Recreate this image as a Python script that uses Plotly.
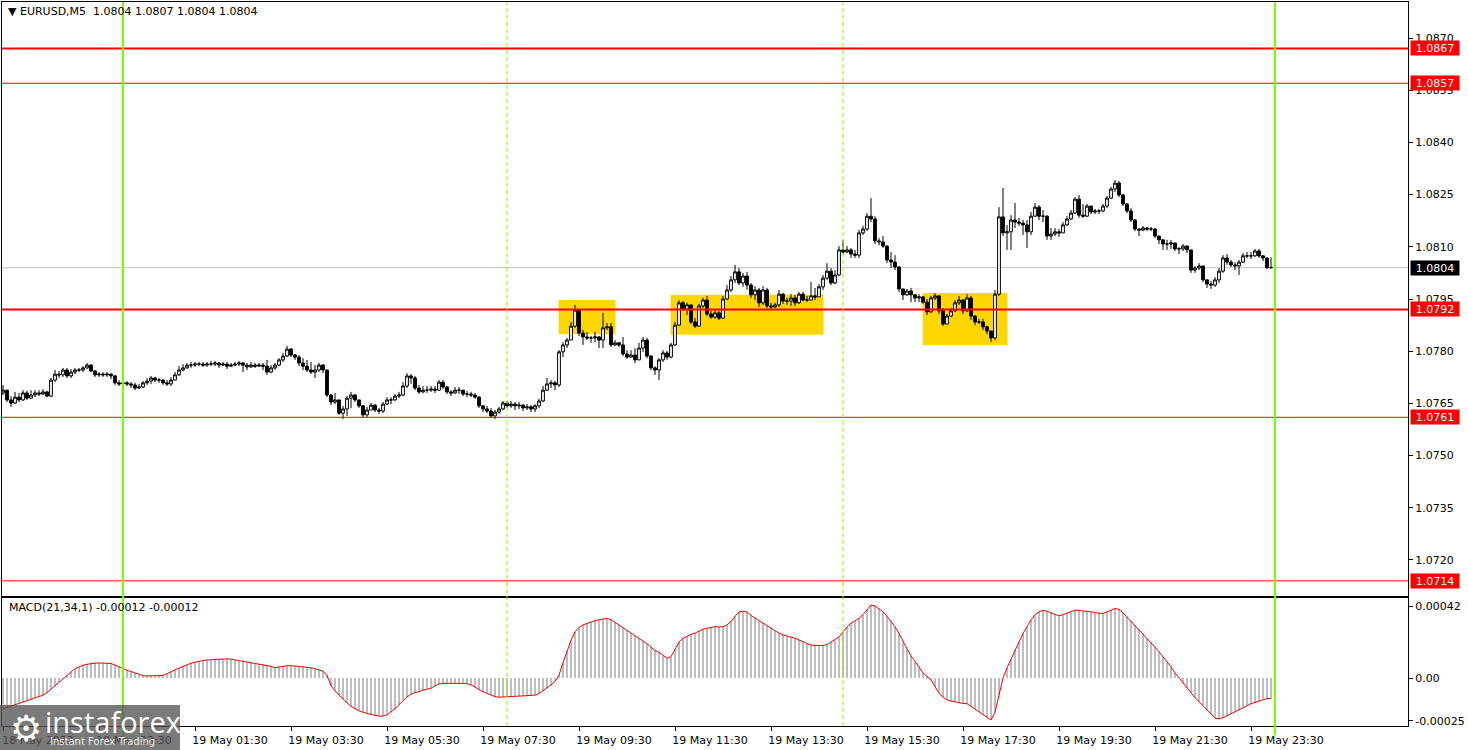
import plotly.graph_objects as go

# ---------------- data (EURUSD M5, 18 May 21:30 .. 19 May 23:55) ----------------
first_open = 1.07680
closes = [
    1.07688, 1.07660, 1.07651, 1.07668, 1.07660, 1.07680, 1.07665, 1.07674, 1.07680, 1.07677,
    1.07683, 1.07671, 1.07717, 1.07734, 1.07732, 1.07746, 1.07729, 1.07740, 1.07746, 1.07746,
    1.07752, 1.07760, 1.07743, 1.07732, 1.07734, 1.07732, 1.07734, 1.07729, 1.07709, 1.07706,
    1.07709, 1.07706, 1.07703, 1.07694, 1.07697, 1.07709, 1.07714, 1.07723, 1.07717, 1.07717,
    1.07709, 1.07706, 1.07717, 1.07732, 1.07746, 1.07752, 1.07760, 1.07760, 1.07763, 1.07763,
    1.07760, 1.07763, 1.07763, 1.07766, 1.07760, 1.07763, 1.07757, 1.07760, 1.07763, 1.07766,
    1.07760, 1.07755, 1.07760, 1.07757, 1.07760, 1.07757, 1.07740, 1.07752, 1.07760, 1.07775,
    1.07786, 1.07806, 1.07789, 1.07783, 1.07766, 1.07757, 1.07746, 1.07740, 1.07746, 1.07760,
    1.07746, 1.07674, 1.07654, 1.07660, 1.07622, 1.07634, 1.07665, 1.07674, 1.07660, 1.07643,
    1.07617, 1.07631, 1.07645, 1.07631, 1.07628, 1.07648, 1.07660, 1.07660, 1.07671, 1.07674,
    1.07700, 1.07729, 1.07723, 1.07694, 1.07683, 1.07688, 1.07688, 1.07691, 1.07688, 1.07711,
    1.07697, 1.07683, 1.07680, 1.07688, 1.07688, 1.07677, 1.07677, 1.07674, 1.07668, 1.07643,
    1.07634, 1.07628, 1.07614, 1.07625, 1.07634, 1.07651, 1.07643, 1.07648, 1.07643, 1.07645,
    1.07637, 1.07640, 1.07634, 1.07643, 1.07657, 1.07688, 1.07706, 1.07709, 1.07703, 1.07798,
    1.07818, 1.07832, 1.07872, 1.07918, 1.07852, 1.07841, 1.07838, 1.07838, 1.07841, 1.07832,
    1.07867, 1.07870, 1.07818, 1.07824, 1.07818, 1.07792, 1.07783, 1.07789, 1.07775, 1.07809,
    1.07832, 1.07786, 1.07752, 1.07746, 1.07775, 1.07795, 1.07783, 1.07818, 1.07875, 1.07939,
    1.07921, 1.07933, 1.07884, 1.07872, 1.07930, 1.07947, 1.07907, 1.07898, 1.07910, 1.07895,
    1.07950, 1.07976, 1.08005, 1.08028, 1.07996, 1.08016, 1.07990, 1.07962, 1.07976, 1.07939,
    1.07976, 1.07930, 1.07927, 1.07933, 1.07964, 1.07944, 1.07944, 1.07953, 1.07939, 1.07964,
    1.07947, 1.07947, 1.07959, 1.07956, 1.07985, 1.08010, 1.08030, 1.07996, 1.08019, 1.08091,
    1.08085, 1.08091, 1.08079, 1.08076, 1.08140, 1.08151, 1.08188, 1.08180, 1.08117, 1.08114,
    1.08102, 1.08062, 1.08056, 1.08042, 1.07979, 1.07962, 1.07973, 1.07962, 1.07953, 1.07956,
    1.07941, 1.07913, 1.07953, 1.07959, 1.07916, 1.07878, 1.07901, 1.07916, 1.07939, 1.07947,
    1.07916, 1.07953, 1.07901, 1.07884, 1.07884, 1.07870, 1.07858, 1.07838, 1.07964, 1.08186,
    1.08140, 1.08143, 1.08177, 1.08171, 1.08168, 1.08163, 1.08143, 1.08188, 1.08214, 1.08188,
    1.08188, 1.08131, 1.08137, 1.08143, 1.08140, 1.08163, 1.08180, 1.08197, 1.08237, 1.08191,
    1.08188, 1.08217, 1.08200, 1.08203, 1.08203, 1.08217, 1.08240, 1.08266, 1.08283, 1.08249,
    1.08223, 1.08203, 1.08177, 1.08151, 1.08148, 1.08154, 1.08151, 1.08151, 1.08131, 1.08120,
    1.08108, 1.08108, 1.08111, 1.08094, 1.08094, 1.08102, 1.08091, 1.08033, 1.08039, 1.08045,
    1.08005, 1.07993, 1.07990, 1.08005, 1.08030, 1.08068, 1.08056, 1.08048, 1.08045, 1.08056,
    1.08074, 1.08074, 1.08074, 1.08088, 1.08074, 1.08068, 1.08040, 1.08040,
]
highs = [
    1.07703, 1.07688, 1.07671, 1.07683, 1.07680, 1.07688, 1.07686, 1.07688, 1.07688, 1.07688,
    1.07691, 1.07686, 1.07723, 1.07746, 1.07743, 1.07752, 1.07752, 1.07749, 1.07752, 1.07752,
    1.07757, 1.07766, 1.07763, 1.07746, 1.07740, 1.07740, 1.07740, 1.07737, 1.07732, 1.07717,
    1.07717, 1.07714, 1.07711, 1.07709, 1.07706, 1.07714, 1.07723, 1.07729, 1.07726, 1.07723,
    1.07720, 1.07717, 1.07726, 1.07740, 1.07757, 1.07763, 1.07766, 1.07769, 1.07769, 1.07769,
    1.07769, 1.07769, 1.07772, 1.07772, 1.07769, 1.07769, 1.07769, 1.07766, 1.07769, 1.07772,
    1.07769, 1.07766, 1.07769, 1.07766, 1.07766, 1.07766, 1.07775, 1.07760, 1.07766, 1.07780,
    1.07795, 1.07815, 1.07809, 1.07792, 1.07789, 1.07780, 1.07775, 1.07769, 1.07760, 1.07766,
    1.07763, 1.07746, 1.07677, 1.07680, 1.07660, 1.07643, 1.07671, 1.07683, 1.07677, 1.07660,
    1.07645, 1.07640, 1.07651, 1.07648, 1.07637, 1.07654, 1.07668, 1.07668, 1.07677, 1.07683,
    1.07711, 1.07737, 1.07734, 1.07729, 1.07703, 1.07700, 1.07700, 1.07700, 1.07700, 1.07717,
    1.07717, 1.07700, 1.07688, 1.07697, 1.07697, 1.07688, 1.07686, 1.07683, 1.07680, 1.07671,
    1.07645, 1.07643, 1.07637, 1.07631, 1.07640, 1.07657, 1.07657, 1.07657, 1.07654, 1.07654,
    1.07648, 1.07648, 1.07645, 1.07648, 1.07663, 1.07700, 1.07723, 1.07717, 1.07714, 1.07803,
    1.07826, 1.07838, 1.07884, 1.07933, 1.07918, 1.07861, 1.07855, 1.07844, 1.07855, 1.07844,
    1.07910, 1.07881, 1.07881, 1.07832, 1.07826, 1.07841, 1.07803, 1.07803, 1.07809, 1.07824,
    1.07841, 1.07838, 1.07789, 1.07757, 1.07780, 1.07803, 1.07801, 1.07824, 1.07884, 1.07947,
    1.07944, 1.07939, 1.07933, 1.07895, 1.07936, 1.07953, 1.07959, 1.07916, 1.07918, 1.07916,
    1.07959, 1.07990, 1.08016, 1.08048, 1.08039, 1.08025, 1.08028, 1.07996, 1.07987, 1.07982,
    1.07987, 1.07982, 1.07939, 1.07939, 1.07976, 1.07967, 1.07953, 1.07964, 1.07962, 1.07970,
    1.07970, 1.07959, 1.07999, 1.07982, 1.07993, 1.08019, 1.08053, 1.08039, 1.08033, 1.08102,
    1.08120, 1.08102, 1.08097, 1.08091, 1.08148, 1.08160, 1.08197, 1.08240, 1.08188, 1.08125,
    1.08131, 1.08105, 1.08085, 1.08076, 1.08045, 1.07979, 1.07979, 1.07982, 1.07962, 1.07964,
    1.07959, 1.07950, 1.07959, 1.07967, 1.07959, 1.07924, 1.07907, 1.07924, 1.07947, 1.07959,
    1.07950, 1.07964, 1.07959, 1.07904, 1.07893, 1.07893, 1.07873, 1.07858, 1.07976, 1.08214,
    1.08269, 1.08163, 1.08191, 1.08226, 1.08183, 1.08177, 1.08177, 1.08200, 1.08226, 1.08220,
    1.08206, 1.08191, 1.08154, 1.08154, 1.08151, 1.08171, 1.08188, 1.08206, 1.08243, 1.08249,
    1.08223, 1.08223, 1.08217, 1.08209, 1.08209, 1.08223, 1.08246, 1.08272, 1.08292, 1.08289,
    1.08252, 1.08226, 1.08211, 1.08180, 1.08154, 1.08160, 1.08157, 1.08157, 1.08154, 1.08131,
    1.08120, 1.08120, 1.08120, 1.08111, 1.08099, 1.08108, 1.08105, 1.08091, 1.08045, 1.08053,
    1.08045, 1.08005, 1.08002, 1.08013, 1.08039, 1.08076, 1.08079, 1.08062, 1.08056, 1.08062,
    1.08082, 1.08085, 1.08085, 1.08094, 1.08094, 1.08076, 1.08068, 1.08070,
]
lows = [
    1.07674, 1.07654, 1.07640, 1.07648, 1.07654, 1.07657, 1.07660, 1.07665, 1.07668, 1.07671,
    1.07674, 1.07668, 1.07668, 1.07711, 1.07723, 1.07726, 1.07723, 1.07723, 1.07734, 1.07740,
    1.07740, 1.07749, 1.07740, 1.07726, 1.07726, 1.07726, 1.07726, 1.07720, 1.07703, 1.07700,
    1.07697, 1.07700, 1.07694, 1.07688, 1.07691, 1.07694, 1.07703, 1.07706, 1.07711, 1.07709,
    1.07703, 1.07700, 1.07700, 1.07717, 1.07729, 1.07743, 1.07749, 1.07752, 1.07755, 1.07757,
    1.07755, 1.07755, 1.07757, 1.07757, 1.07752, 1.07757, 1.07749, 1.07755, 1.07757, 1.07757,
    1.07740, 1.07746, 1.07752, 1.07752, 1.07755, 1.07746, 1.07732, 1.07737, 1.07746, 1.07757,
    1.07769, 1.07783, 1.07783, 1.07775, 1.07757, 1.07746, 1.07740, 1.07734, 1.07723, 1.07740,
    1.07737, 1.07668, 1.07645, 1.07648, 1.07617, 1.07605, 1.07614, 1.07637, 1.07654, 1.07637,
    1.07608, 1.07611, 1.07631, 1.07625, 1.07620, 1.07622, 1.07645, 1.07648, 1.07657, 1.07665,
    1.07671, 1.07694, 1.07706, 1.07688, 1.07677, 1.07680, 1.07680, 1.07683, 1.07680, 1.07686,
    1.07691, 1.07677, 1.07671, 1.07677, 1.07677, 1.07671, 1.07668, 1.07668, 1.07663, 1.07637,
    1.07625, 1.07622, 1.07608, 1.07605, 1.07620, 1.07631, 1.07637, 1.07637, 1.07631, 1.07634,
    1.07628, 1.07631, 1.07625, 1.07625, 1.07637, 1.07654, 1.07686, 1.07694, 1.07688, 1.07697,
    1.07783, 1.07809, 1.07832, 1.07867, 1.07844, 1.07818, 1.07832, 1.07824, 1.07826, 1.07809,
    1.07809, 1.07861, 1.07812, 1.07815, 1.07812, 1.07786, 1.07778, 1.07783, 1.07766, 1.07775,
    1.07798, 1.07780, 1.07746, 1.07732, 1.07717, 1.07769, 1.07775, 1.07780, 1.07815, 1.07872,
    1.07916, 1.07904, 1.07878, 1.07867, 1.07870, 1.07924, 1.07901, 1.07893, 1.07893, 1.07890,
    1.07893, 1.07947, 1.07970, 1.07996, 1.07990, 1.07985, 1.07976, 1.07953, 1.07947, 1.07927,
    1.07933, 1.07924, 1.07918, 1.07924, 1.07927, 1.07936, 1.07933, 1.07930, 1.07930, 1.07936,
    1.07944, 1.07941, 1.07947, 1.07947, 1.07956, 1.07976, 1.08005, 1.07990, 1.07993, 1.08016,
    1.08079, 1.08082, 1.08068, 1.08068, 1.08068, 1.08134, 1.08145, 1.08171, 1.08108, 1.08105,
    1.08097, 1.08053, 1.08039, 1.08033, 1.07970, 1.07947, 1.07959, 1.07941, 1.07941, 1.07941,
    1.07936, 1.07904, 1.07910, 1.07947, 1.07907, 1.07872, 1.07878, 1.07898, 1.07913, 1.07933,
    1.07907, 1.07913, 1.07890, 1.07875, 1.07878, 1.07861, 1.07849, 1.07826, 1.07832, 1.07959,
    1.08131, 1.08091, 1.08091, 1.08154, 1.08160, 1.08134, 1.08097, 1.08134, 1.08186, 1.08177,
    1.08171, 1.08120, 1.08120, 1.08131, 1.08128, 1.08140, 1.08160, 1.08177, 1.08194, 1.08183,
    1.08183, 1.08186, 1.08194, 1.08194, 1.08194, 1.08200, 1.08211, 1.08237, 1.08257, 1.08243,
    1.08217, 1.08197, 1.08171, 1.08145, 1.08131, 1.08145, 1.08145, 1.08145, 1.08125, 1.08108,
    1.08091, 1.08091, 1.08094, 1.08088, 1.08079, 1.08088, 1.08082, 1.08025, 1.08025, 1.08033,
    1.07999, 1.07982, 1.07979, 1.07985, 1.07996, 1.08025, 1.08048, 1.08042, 1.08033, 1.08019,
    1.08053, 1.08068, 1.08065, 1.08071, 1.08068, 1.08059, 1.08036, 1.08040,
]
opens = [first_open] + closes[:-1]   # each M5 bar opens at the previous close

# MACD(21,34,1) main value per bar, in millionths (1e-6)
macd_micro = [
    -180, -172, -165, -158, -146, -140, -133, -125, -118, -110,
    -100, -85, -65, -45, -22, 0, 20, 38, 55, 65,
    75, 80, 85, 87, 88, 88, 88, 85, 75, 65,
    52, 45, 38, 30, 22, 14, 12, 12, 13, 14,
    15, 25, 38, 48, 58, 68, 78, 86, 92, 98,
    102, 105, 107, 110, 112, 113, 112, 110, 106, 102,
    97, 95, 92, 88, 84, 80, 76, 68, 60, 64,
    70, 72, 72, 70, 66, 62, 62, 60, 55, 48,
    40, 15, -45, -75, -100, -125, -145, -165, -180, -192,
    -200, -207, -213, -218, -222, -222, -215, -200, -180, -155,
    -130, -110, -95, -85, -80, -70, -65, -60, -45, -35,
    -31, -30, -30, -31, -31, -32, -33, -40, -55, -70,
    -80, -90, -100, -108, -112, -112, -110, -108, -107, -106,
    -105, -104, -103, -100, -90, -75, -60, -41, -20, 17,
    90, 160, 220, 270, 295, 310, 319, 328, 335, 340,
    345, 348, 340, 325, 310, 295, 280, 262, 245, 231,
    215, 200, 180, 160, 150, 130, 115, 125, 170, 210,
    231, 245, 255, 262, 275, 285, 290, 295, 300, 298,
    299, 310, 330, 360, 385, 390, 385, 365, 348, 335,
    320, 305, 290, 275, 262, 252, 245, 241, 232, 222,
    212, 200, 192, 190, 190, 190, 195, 210, 222, 240,
    270, 299, 320, 335, 348, 370, 400, 426, 420, 405,
    387, 360, 330, 300, 260, 212, 170, 130, 95, 60,
    30, 10, -12, -50, -90, -110, -128, -135, -140, -145,
    -148, -150, -165, -180, -196, -210, -230, -245, -200, -100,
    0, 60, 110, 165, 212, 260, 300, 340, 370, 387,
    395, 390, 380, 370, 363, 370, 380, 388, 396, 395,
    390, 390, 385, 380, 378, 377, 385, 395, 406, 400,
    380, 355, 335, 309, 285, 260, 235, 210, 180, 153,
    125, 95, 65, 30, 0, -30, -60, -90, -115, -138,
    -160, -185, -210, -235, -238, -232, -220, -206, -195, -185,
    -170, -160, -150, -142, -134, -125, -120, -120,
]
macd = [v * 1e-6 for v in macd_micro]

# bar positions (index of M5 bar) and time labels
bars = list(range(len(closes)))
tick_bars = [0, 24, 48, 72, 96, 120, 144, 168, 192, 216, 240, 264, 288, 312]
tick_labels = ["18 May 2023", "18 May 23:30", "19 May 01:30", "19 May 03:30", "19 May 05:30",
               "19 May 07:30", "19 May 09:30", "19 May 11:30", "19 May 13:30", "19 May 15:30",
               "19 May 17:30", "19 May 19:30", "19 May 21:30", "19 May 23:30"]

price_ticks = [1.0720, 1.0735, 1.0750, 1.0765, 1.0780, 1.0795, 1.0810, 1.0825, 1.0840, 1.0855, 1.0870]
macd_ticks = [0.00042, 0.0, -0.00025]
macd_tick_labels = ["0.00042", "0.00", "-0.00025"]

levels = [1.0867, 1.0857, 1.0792, 1.0761, 1.0714]
level_widths = [2, 1, 2, 1, 1]
current_price = 1.0804

day_start_bars = [30, 318]        # 19 May 00:00, 20 May 00:00
session_bars = [126, 210]         # 08:00, 15:00

zone_start = [139, 167, 230]
zone_end = [153, 205, 251]
zone_top = [1.07947, 1.07962, 1.07967]
zone_bottom = [1.07849, 1.07847, 1.07818]

FONT = "DejaVu Sans"
GREEN = "#7CFC00"

fig = go.Figure()
fig.add_trace(go.Candlestick(
    x=bars, open=opens, high=highs, low=lows, close=closes,
    increasing=dict(line=dict(color="black", width=1), fillcolor="white"),
    decreasing=dict(line=dict(color="black", width=1), fillcolor="black"),
    whiskerwidth=0, xaxis="x", yaxis="y", hoverinfo="skip", showlegend=False))
fig.add_trace(go.Bar(
    x=bars, y=macd, width=0.35, marker=dict(color="#BEBEBE", line=dict(width=0)),
    xaxis="x2", yaxis="y2", hoverinfo="skip", showlegend=False))
fig.add_trace(go.Scatter(
    x=bars, y=macd, mode="lines", line=dict(color="#FF0000", width=1),
    xaxis="x2", yaxis="y2", hoverinfo="skip", showlegend=False))

shapes = []
for s, e, t, b in zip(zone_start, zone_end, zone_top, zone_bottom):
    shapes.append(dict(type="rect", xref="x", yref="y", x0=s - 0.1, x1=e + 0.1, y0=b, y1=t,
                       fillcolor="#FFD700", line=dict(width=0), layer="below"))
shapes.append(dict(type="line", xref="x domain", yref="y", x0=0, x1=1, y0=current_price,
                   y1=current_price, line=dict(color="#C0C0C0", width=1), layer="below"))
for lv, w in zip(levels, level_widths):
    shapes.append(dict(type="line", xref="x domain", yref="y", x0=0, x1=1, y0=lv, y1=lv,
                       line=dict(color="#FF0000", width=w), layer="above"))
for b in session_bars:
    shapes.append(dict(type="line", xref="x", yref="paper", x0=b, x1=b, y0=0, y1=1,
                       line=dict(color=GREEN, width=1, dash="4px,3px"), layer="above"))
for b in day_start_bars:
    shapes.append(dict(type="line", xref="x", yref="paper", x0=b, x1=b, y0=-0.013, y1=1,
                       line=dict(color=GREEN, width=2), layer="above"))
# watermark box
shapes.append(dict(type="rect", xref="paper", yref="paper", x0=-0.01, x1=0.1266, y0=-0.04, y1=0.029,
                   fillcolor="rgba(85,85,85,0.78)", line=dict(width=0), layer="above"))

annotations = []
for lv in levels:
    annotations.append(dict(xref="paper", yref="y", x=1, y=lv, xanchor="left", xshift=2,
                            text=f"{lv:.4f}", showarrow=False, bgcolor="#FF0000",
                            font=dict(family=FONT, size=11, color="white"),
                            width=46, height=12, borderpad=1))
annotations.append(dict(xref="paper", yref="y", x=1, y=current_price, xanchor="left", xshift=2,
                        text=f"{current_price:.4f}", showarrow=False, bgcolor="black",
                        font=dict(family=FONT, size=11, color="white"),
                        width=46, height=12, borderpad=1))
annotations.append(dict(xref="paper", yref="paper", x=0.0025, y=0.9862, xanchor="left", yanchor="middle",
                        text="\u25bc EURUSD,M5\u00a0\u00a01.0804 1.0807 1.0804 1.0804", showarrow=False,
                        font=dict(family=FONT, size=11, color="black")))
annotations.append(dict(xref="paper", yref="paper", x=0.0036, y=0.163, xanchor="left", yanchor="middle",
                        text="MACD(21,34,1) -0.00012 -0.00012", showarrow=False,
                        font=dict(family=FONT, size=11, color="black")))
annotations.append(dict(xref="paper", yref="paper", x=0.004, y=-0.003, xanchor="left", yanchor="middle",
                        text="\u2699", showarrow=False,
                        font=dict(family=FONT, size=36, color="white")))
annotations.append(dict(xref="paper", yref="paper", x=0.029, y=0.006, xanchor="left", yanchor="middle",
                        text="instaforex", showarrow=False,
                        font=dict(family="Open Sans", size=29, color="white")))
annotations.append(dict(xref="paper", yref="paper", x=0.033, y=-0.022, xanchor="left", yanchor="middle",
                        text="Instant Forex Trading", showarrow=False,
                        font=dict(family=FONT, size=10, color="#EEEEEE")))

axis_common = dict(showgrid=False, zeroline=False, showline=True, mirror=True,
                   linecolor="black", linewidth=1)

fig.update_layout(
    width=1468, height=750,
    margin=dict(l=2, r=60, t=2, b=24),
    paper_bgcolor="white", plot_bgcolor="white",
    showlegend=False, bargap=0, boxgap=0.3, boxgroupgap=0,
    shapes=shapes, annotations=annotations,
    xaxis=dict(domain=[0, 1], range=[-0.25, 351.25], anchor="y", showticklabels=False,
               ticks="", rangeslider=dict(visible=False), **axis_common),
    yaxis=dict(domain=[0.17956, 1], range=[1.070965, 1.088035], side="right", anchor="x",
               tickvals=price_ticks, ticktext=[f"{p:.4f}" for p in price_ticks],
               ticks="outside", ticklen=4, tickcolor="black",
               tickfont=dict(family=FONT, size=11, color="black"), **axis_common),
    xaxis2=dict(domain=[0, 1], range=[-0.25, 351.25], anchor="y2", matches="x",
                tickvals=tick_bars, ticktext=tick_labels, ticks="outside", ticklen=4,
                tickcolor="black", ticklabelshift=35,
                tickfont=dict(family=FONT, size=11, color="black"), **axis_common),
    yaxis2=dict(domain=[0, 0.1768], range=[-0.00028, 0.000467], side="right", anchor="x2",
                tickvals=macd_ticks, ticktext=macd_tick_labels, ticks="outside", ticklen=4,
                tickcolor="black", tickfont=dict(family=FONT, size=11, color="black"),
                **axis_common),
)

fig.write_html("out.html",
               config={"displayModeBar": False},
               post_script="document.body.style.margin='0';"
                           "document.documentElement.style.overflow='hidden';")
